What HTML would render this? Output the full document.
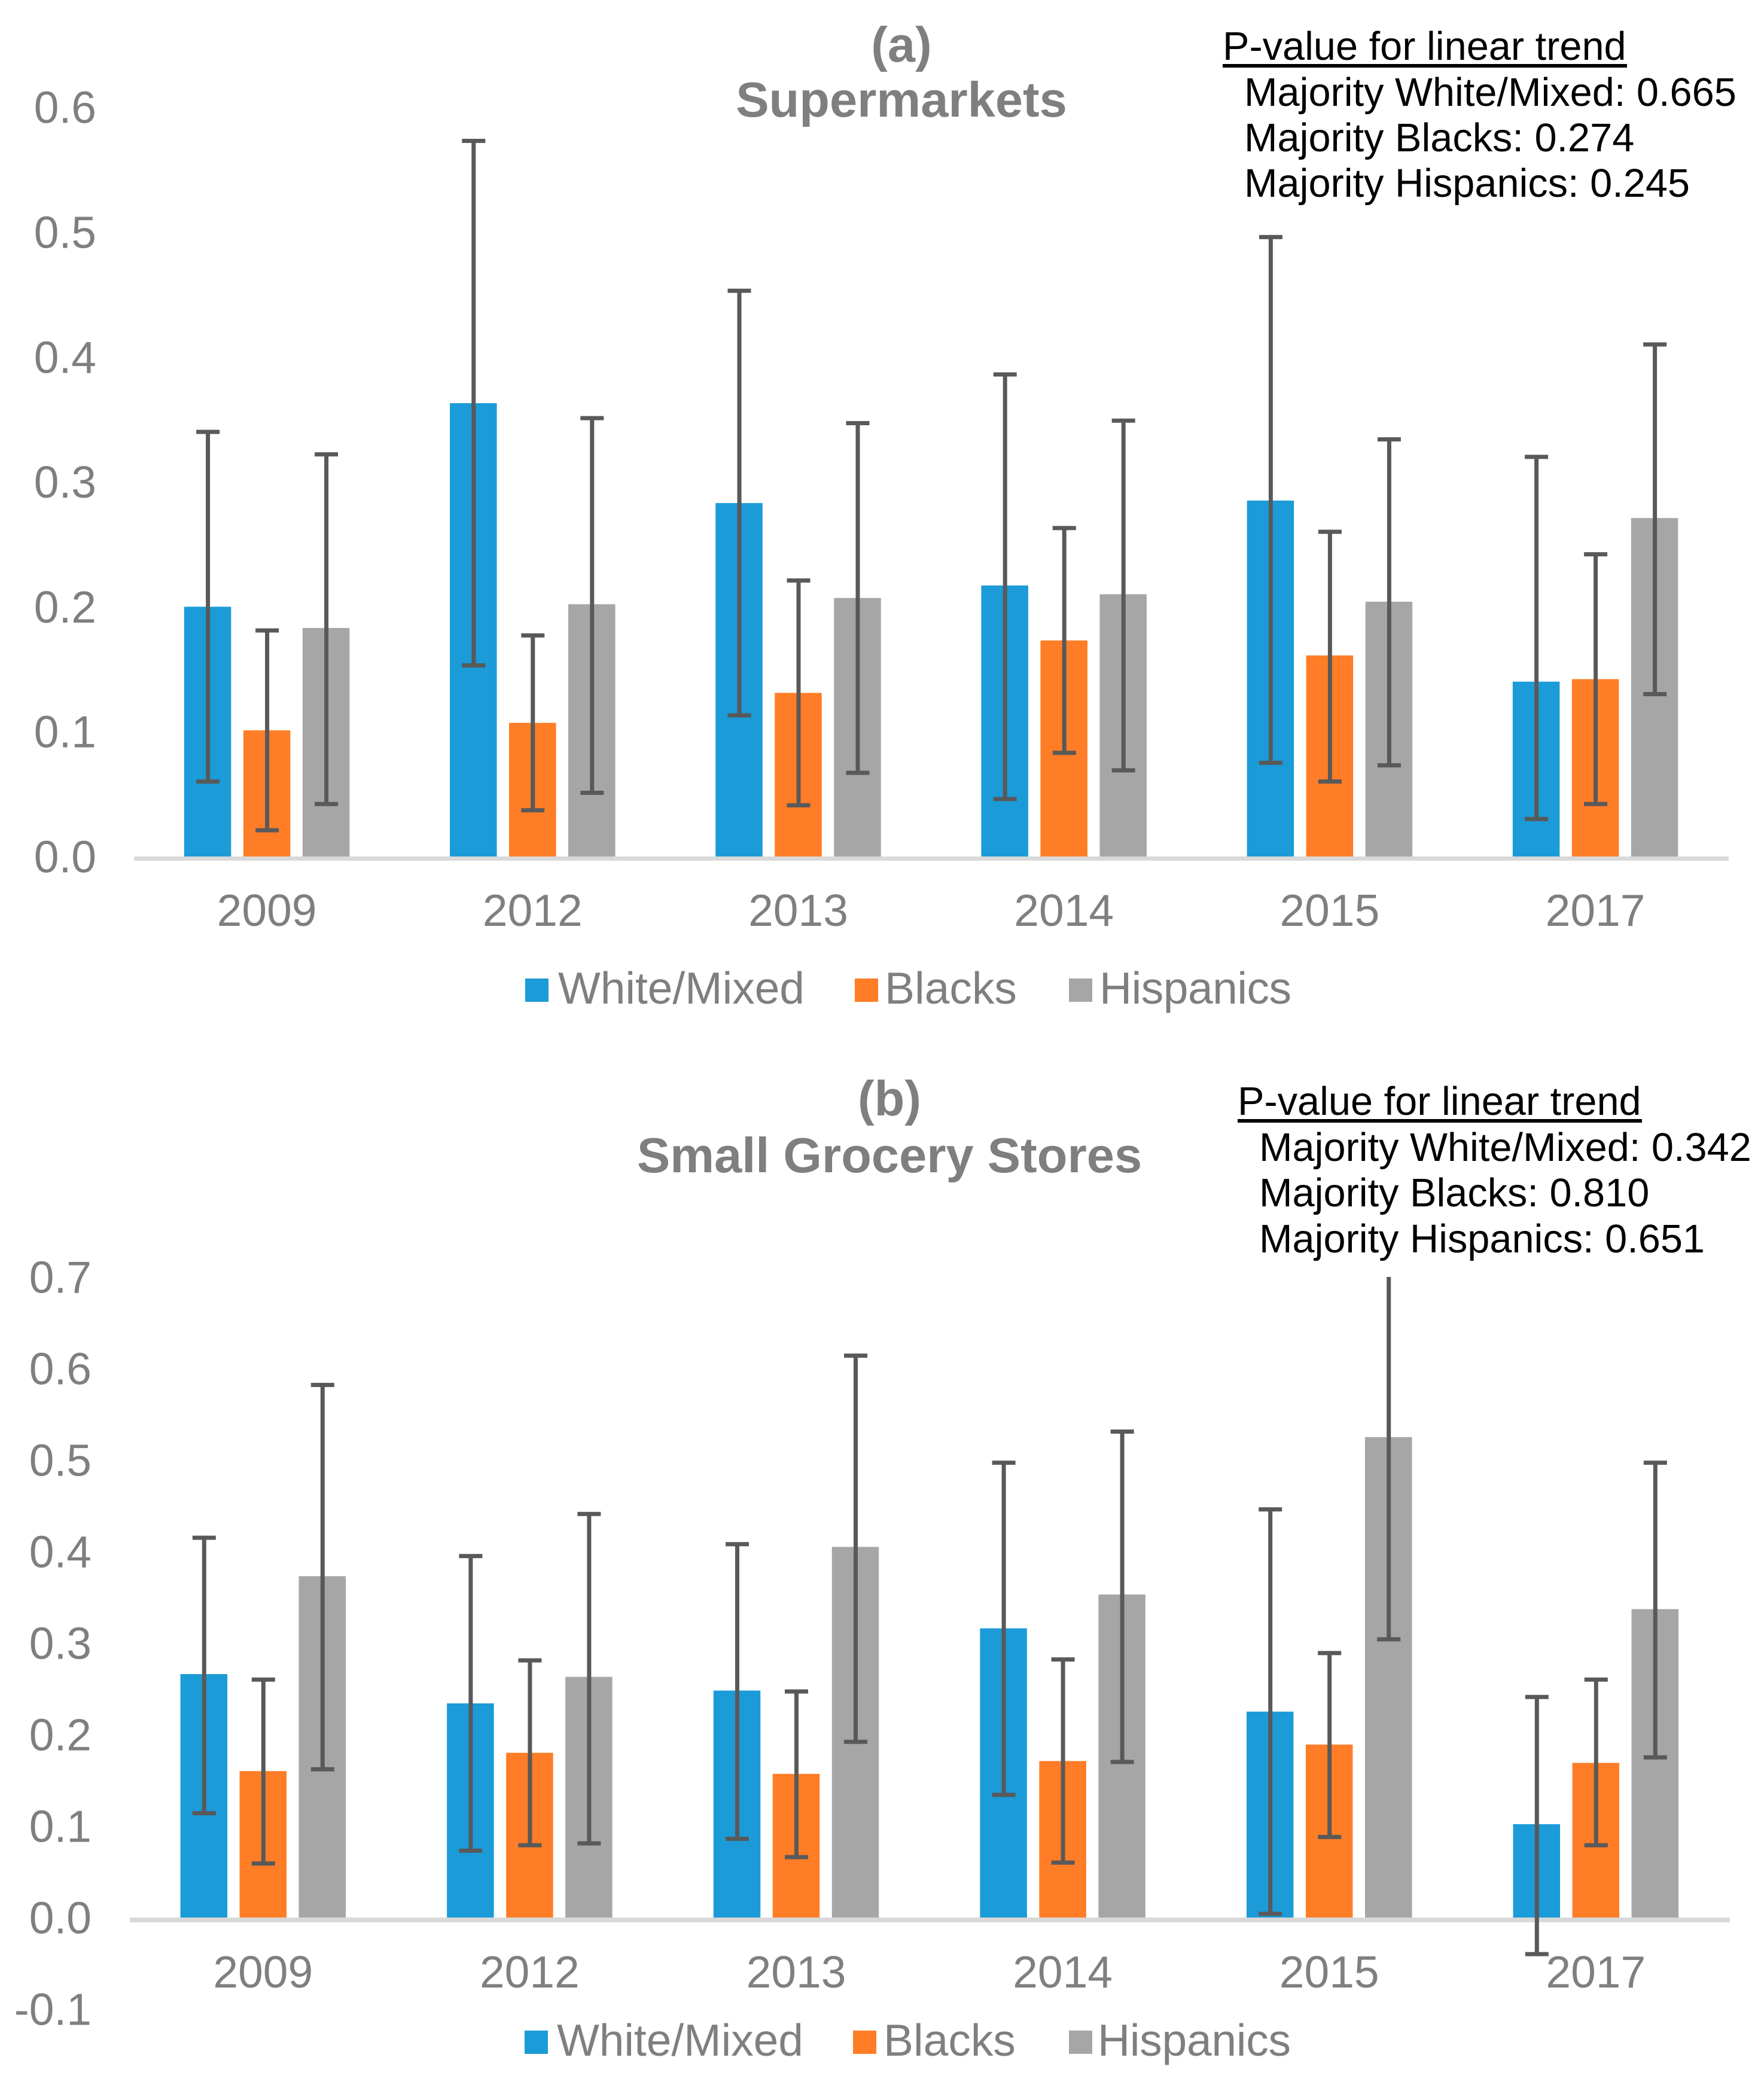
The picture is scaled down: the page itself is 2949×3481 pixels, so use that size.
<!DOCTYPE html>
<html lang="en">
<head>
<meta charset="utf-8">
<title>Supermarkets and Small Grocery Stores</title>
<style>
html,body{margin:0;padding:0;background:#fff;}
svg{display:block;font-family:"Liberation Sans",Arial,sans-serif;}
.tick{font-size:75px;fill:#7f7f7f;}
.title{font-size:83px;font-weight:bold;fill:#7f7f7f;text-anchor:middle;}
.note{font-size:66.7px;fill:#000;}
</style>
</head>
<body>
<svg id="figure" xmlns="http://www.w3.org/2000/svg" width="2949" height="3481" viewBox="0 0 2949 3481">
  <rect x="0" y="0" width="2949" height="3481" fill="#ffffff"/>

  <text class="title" x="1507" y="103">(a)</text>
  <text class="title" x="1507" y="195">Supermarkets</text>
  <text class="note" x="2044" y="100">P-value for linear trend</text>
  <rect x="2044" y="107" width="676" height="6" fill="#000"/>
  <text class="note" x="2080" y="177">Majority White/Mixed: 0.665</text>
  <text class="note" x="2080" y="253">Majority Blacks: 0.274</text>
  <text class="note" x="2080" y="329">Majority Hispanics: 0.245</text>

  <text class="title" x="1487" y="1865">(b)</text>
  <text class="title" x="1487" y="1960">Small Grocery Stores</text>
  <text class="note" x="2069" y="1864">P-value for linear trend</text>
  <rect x="2069" y="1871" width="676" height="6" fill="#000"/>
  <text class="note" x="2105" y="1941">Majority White/Mixed: 0.342</text>
  <text class="note" x="2105" y="2017">Majority Blacks: 0.810</text>
  <text class="note" x="2105" y="2094">Majority Hispanics: 0.651</text>

  <g>
    <rect x="878" y="1636" width="39" height="39" fill="#1b9bd8"/>
    <text class="tick" x="933" y="1678" textLength="412">White/Mixed</text>
    <rect x="1429" y="1636" width="39" height="39" fill="#ff7d26"/>
    <text class="tick" x="1479" y="1678">Blacks</text>
    <rect x="1787" y="1636" width="39" height="39" fill="#a6a6a6"/>
    <text class="tick" x="1838" y="1678" textLength="321">Hispanics</text>
  </g>
  <g>
    <rect x="877" y="3395" width="39" height="39" fill="#1b9bd8"/>
    <text class="tick" x="931" y="3437" textLength="412">White/Mixed</text>
    <rect x="1426" y="3395" width="39" height="39" fill="#ff7d26"/>
    <text class="tick" x="1477" y="3437">Blacks</text>
    <rect x="1787" y="3395" width="39" height="39" fill="#a6a6a6"/>
    <text class="tick" x="1835" y="3437" textLength="323">Hispanics</text>
  </g>

  <g id="panel-a"></g>
  <g id="panel-b"></g>
</svg>

<script>
const categories = ['2009', '2012', '2013', '2014', '2015', '2017'];
const seriesNames = ['white-mixed', 'blacks', 'hispanics'];

const ticksA = [0, 0.1, 0.2, 0.3, 0.4, 0.5, 0.6];
const whiteA = [0.200, 0.363, 0.283, 0.217, 0.285, 0.140];
const whiteHighA = [0.340, 0.573, 0.453, 0.386, 0.496, 0.320];
const whiteLowA = [0.060, 0.153, 0.113, 0.046, 0.075, 0.030];
const blacksA = [0.101, 0.107, 0.131, 0.173, 0.161, 0.142];
const blacksHighA = [0.181, 0.177, 0.221, 0.263, 0.260, 0.242];
const blacksLowA = [0.021, 0.037, 0.041, 0.083, 0.060, 0.042];
const hispanicsA = [0.183, 0.202, 0.207, 0.210, 0.204, 0.271];
const hispanicsHighA = [0.322, 0.351, 0.347, 0.349, 0.334, 0.410];
const hispanicsLowA = [0.042, 0.051, 0.067, 0.069, 0.073, 0.130];

const ticksB = [-0.1, 0, 0.1, 0.2, 0.3, 0.4, 0.5, 0.6, 0.7];
const whiteB = [0.266, 0.234, 0.248, 0.316, 0.225, 0.102];
const whiteHighB = [0.415, 0.395, 0.408, 0.497, 0.446, 0.241];
const whiteLowB = [0.114, 0.073, 0.086, 0.134, 0.004, -0.040];
const blacksB = [0.160, 0.180, 0.157, 0.171, 0.189, 0.169];
const blacksHighB = [0.260, 0.281, 0.247, 0.282, 0.289, 0.260];
const blacksLowB = [0.059, 0.079, 0.066, 0.060, 0.088, 0.079];
const hispanicsB = [0.373, 0.263, 0.405, 0.353, 0.525, 0.337];
const hispanicsHighB = [0.582, 0.441, 0.614, 0.531, 0.750, 0.497];
const hispanicsLowB = [0.162, 0.081, 0.192, 0.170, 0.304, 0.175];

const SVGNS = 'http://www.w3.org/2000/svg';
const colors = ['#1b9bd8', '#ff7d26', '#a6a6a6'];

function make(tag, attrs, parent) {
  const el = document.createElementNS(SVGNS, tag);
  for (const k in attrs) el.setAttribute(k, attrs[k]);
  parent.appendChild(el);
  return el;
}

function drawPanel(cfg) {
  const root = document.getElementById(cfg.id);
  const yOf = v => cfg.zeroY - v * cfg.pxPerUnit;
  const xOf = i => cfg.left + cfg.step * (i + 0.5) + cfg.centerShift;

  cfg.ticks.forEach(t => {
    const label = make('text', {x: cfg.tickRight, y: yOf(t) + 26.5, 'text-anchor': 'end', class: 'tick'}, root);
    
    
    label.textContent = t.toFixed(1);
  });

  categories.forEach((c, i) => {
    cfg.series.forEach((s, j) => {
      const cx = xOf(i) + (j - 1) * 99;
      const top = yOf(Math.max(s.value[i], 0));
      const bar = make('rect', {
        x: cx - 39.25, y: top, width: 78.5,
        height: yOf(0) - top, fill: colors[j]
      }, root);
      
      
    });
  });

  const axis = make('rect', {
    x: cfg.left, y: yOf(0), width: cfg.right - cfg.left, height: cfg.axisHeight, fill: '#d9d9d9'
  }, root);
  
  

  categories.forEach((c, i) => {
    const label = make('text', {x: xOf(i), y: cfg.yearBaseline, 'text-anchor': 'middle', class: 'tick'}, root);
    
    
    label.textContent = c;

    cfg.series.forEach((s, j) => {
      const cx = xOf(i) + (j - 1) * 99 + 0.5;
      const clipped = s.high[i] > cfg.maxValue;
      const hi = yOf(Math.min(s.high[i], cfg.maxValue));
      const lo = yOf(s.low[i]);
      const stem = make('rect', {x: cx - 3.5, y: hi, width: 7, height: lo - hi, fill: '#595959'}, root);
      
      
      if (!clipped) {
        const capTop = make('rect', {x: cx - 19.5, y: hi - 3.5, width: 39, height: 7, fill: '#595959'}, root);
        
        
      }
      const capLow = make('rect', {x: cx - 19.5, y: lo - 3.5, width: 39, height: 7, fill: '#595959'}, root);
      
      
    });
  });
}

drawPanel({
  id: 'panel-a', left: 224, right: 2890, step: 444.2, centerShift: 0,
  zeroY: 1432, pxPerUnit: 2088, axisHeight: 7, maxValue: 0.6,
  tickRight: 161, yearBaseline: 1548, ticks: ticksA,
  series: [
    {value: whiteA, high: whiteHighA, low: whiteLowA},
    {value: blacksA, high: blacksHighA, low: blacksLowA},
    {value: hispanicsA, high: hispanicsHighA, low: hispanicsLowA}
  ]
});

drawPanel({
  id: 'panel-b', left: 217, right: 2892, step: 445.6, centerShift: 0,
  zeroY: 3206, pxPerUnit: 1530, axisHeight: 8, maxValue: 0.7,
  tickRight: 153, yearBaseline: 3323, ticks: ticksB,
  series: [
    {value: whiteB, high: whiteHighB, low: whiteLowB},
    {value: blacksB, high: blacksHighB, low: blacksLowB},
    {value: hispanicsB, high: hispanicsHighB, low: hispanicsLowB}
  ]
});
</script>
</body>
</html>
